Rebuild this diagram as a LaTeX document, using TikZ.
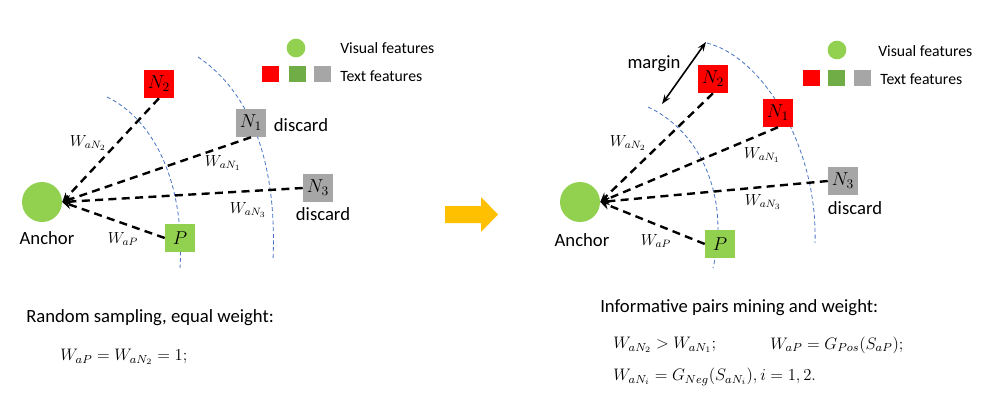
\RequirePackage{fix-cm}
\documentclass[tikz,border=0pt]{standalone}
\usepackage{fontspec}
\setmainfont{Carlito}
\usetikzlibrary{arrows.meta}

\definecolor{lightgreen}{HTML}{92D050}
\definecolor{darkgreen}{HTML}{70AD47}
\definecolor{boxgray}{HTML}{A6A6A6}
\definecolor{arcblue}{HTML}{4472C4}
\definecolor{arrowyellow}{HTML}{FFC000}

\tikzset{
  feat/.style={rectangle, minimum width=22.5pt, minimum height=21pt, inner sep=0pt, font=\fontsize{14}{16}\selectfont},
  anchorpt/.style={circle, fill=lightgreen, minimum size=30pt, inner sep=0pt},
  legbox/.style={rectangle, minimum width=12.75pt, minimum height=12pt, inner sep=0pt},
  legdot/.style={circle, fill=lightgreen, minimum size=14pt, inner sep=0pt},
  legtext/.style={anchor=west, inner sep=0pt, font=\fontsize{11.8}{14}\selectfont},
  txt/.style={inner sep=0pt, font=\fontsize{14}{17}\selectfont},
  wlabel/.style={inner sep=0pt, font=\fontsize{12}{14}\selectfont},
  formula/.style={anchor=west, inner sep=0pt, font=\fontsize{12.5}{15}\selectfont},
  link/.style={-{Stealth[length=7pt,width=6pt]}, dash pattern=on 6pt off 4pt, line width=1.8pt},
  bound/.style={arcblue, dash pattern=on 3pt off 2pt, line width=0.6pt}
}

\begin{document}
\begin{tikzpicture}[x=0.75pt, y=-0.75pt]
      \useasboundingbox (0,0) rectangle (983,408);

      \draw[bound] (107,97) .. controls (155,120) and (185,185) .. (180,268);
      \draw[bound] (198,57) .. controls (240,85) and (278,145) .. (273,260);

      \node[anchorpt] (anchorL) at (42,202) {};
      \node[txt] (anchortextL) at (47,238) {Anchor};
      \node[feat, fill=red] (n2L) at (159,84) {$N_2$};
      \node[feat, fill=boxgray] (n1L) at (251,123) {$N_1$};
      \node[feat, fill=boxgray] (n3L) at (318,188) {$N_3$};
      \node[feat, fill=lightgreen] (pL) at (180,238) {$P$};
      \node[txt] (discard1L) at (301,125) {discard};
      \node[txt] (discard3L) at (323,214) {discard};

      \draw[link] (n2L.south) -- (anchorL.east);
      \draw[link] (n1L.south) -- (anchorL.east);
      \draw[link] (n3L.west) -- (anchorL.east);
      \draw[link] (pL.west) -- (anchorL.east);

      \node[wlabel] (wn2L) at (88,143) {$W_{aN_2}$};
      \node[wlabel] (wn1L) at (223,163) {$W_{aN_1}$};
      \node[wlabel] (wn3L) at (248,210) {$W_{aN_3}$};
      \node[wlabel] (wpL) at (123,239) {$W_{aP}$};

      \node[legdot] (visL) at (296,48) {};
      \node[legtext] (vistextL) at (340,48) {Visual features};
      \node[legbox, fill=red] (redL) at (270,74) {};
      \node[legbox, fill=darkgreen] (greenL) at (297,74) {};
      \node[legbox, fill=boxgray] (grayL) at (322,74) {};
      \node[legtext] (texttextL) at (340,76) {Text features};

      \node[txt, anchor=west] (titleL) at (26,318) {Random sampling, equal weight:};
      \node[formula] (eqL) at (60,357) {$W_{aP} = W_{aN_2} = 1;$};

      \fill[arrowyellow] (445,206) -- (481,206) -- (481,197) -- (498,214.5) -- (481,232) -- (481,223) -- (445,223) -- cycle;

      \draw[bound] (648,107) .. controls (702,132) and (730,200) .. (713,268);
      \draw[bound] (707,43) .. controls (765,58) and (818,150) .. (815,243);

      \coordinate (marginin) at (662,104);
      \coordinate (marginout) at (706,42);
      \draw[{Stealth[length=7pt,width=5pt]}-{Stealth[length=7pt,width=5pt]}, line width=1.2pt] (marginin) -- (marginout);
      \node[txt] (margintext) at (654,64) {margin};

      \node[anchorpt] (anchorR) at (580,202) {};
      \node[txt] (anchortextR) at (582,240) {Anchor};
      \node[feat, fill=red] (n2R) at (713,79) {$N_2$};
      \node[feat, fill=red] (n1R) at (778,113) {$N_1$};
      \node[feat, fill=boxgray] (n3R) at (843,181) {$N_3$};
      \node[feat, fill=lightgreen] (pR) at (720,244) {$P$};
      \node[txt] (discard3R) at (855,208) {discard};

      \draw[link] (n2R.south) -- (anchorR.east);
      \draw[link] (n1R.south) -- (anchorR.east);
      \draw[link] (n3R.west) -- (anchorR.east);
      \draw[link] (pR.west) -- (anchorR.east);

      \node[wlabel] (wn2R) at (628,143) {$W_{aN_2}$};
      \node[wlabel] (wn1R) at (762,155) {$W_{aN_1}$};
      \node[wlabel] (wn3R) at (763,202) {$W_{aN_3}$};
      \node[wlabel] (wpR) at (656,241) {$W_{aP}$};

      \node[legdot] (visR) at (837,50) {};
      \node[legtext] (vistextR) at (878,51) {Visual features};
      \node[legbox, fill=red] (redR) at (811,78) {};
      \node[legbox, fill=darkgreen] (greenR) at (836,78) {};
      \node[legbox, fill=boxgray] (grayR) at (862,78) {};
      \node[legtext] (texttextR) at (880,79) {Text features};

      \node[txt, anchor=west] (titleR) at (600,308) {Informative pairs mining and weight:};
      \node[formula] (eq1R) at (613,345) {$W_{aN_2} > W_{aN_1};$};
      \node[formula] (eq2R) at (770,345) {$W_{aP} = G_{Pos}(S_{aP});$};
      \node[formula] (eq3R) at (613,377) {$W_{aN_i} = G_{Neg}\bigl(S_{aN_i}\bigr), i = 1, 2.$};
    \end{tikzpicture}
\end{document}
